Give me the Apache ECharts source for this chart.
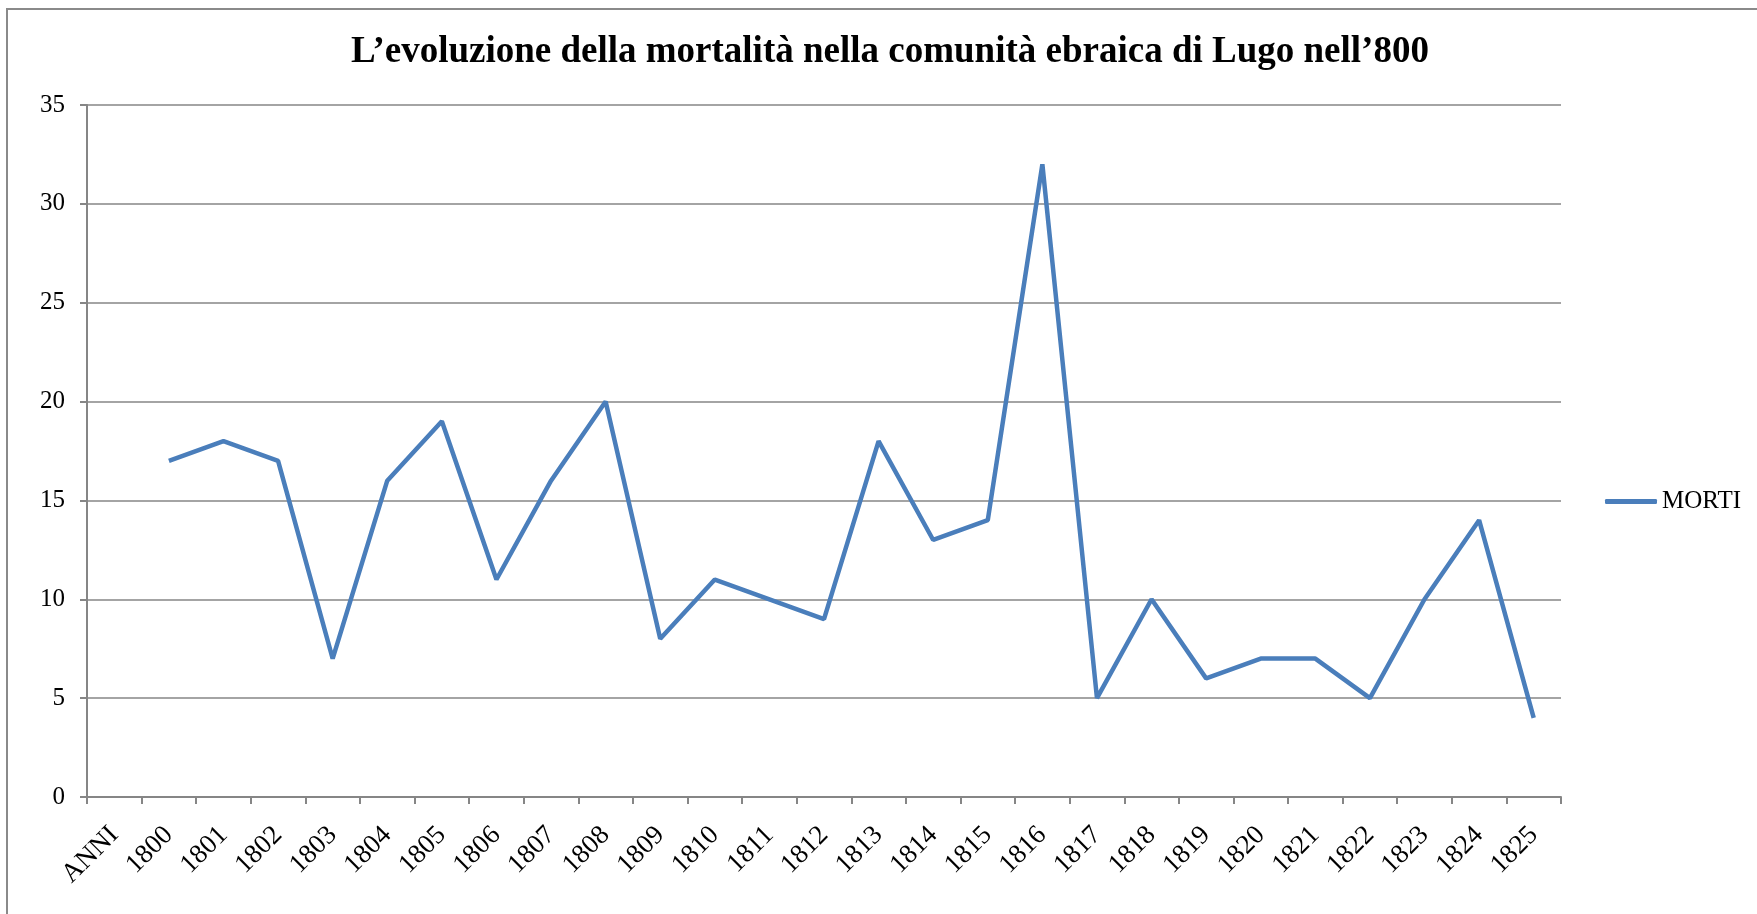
<!DOCTYPE html>
<html>
<head>
<meta charset="utf-8">
<script src="https://cdn.jsdelivr.net/npm/echarts@6/dist/echarts.min.js"></script>
<style>
html,body{margin:0;padding:0;background:#fff}
#chart{width:1757px;height:914px}
</style>
</head>
<body>
<div id="chart"></div>
<script>
// dati
var anni = ['ANNI','1800','1801','1802','1803','1804','1805','1806','1807','1808','1809','1810','1811','1812',
  '1813','1814','1815','1816','1817','1818','1819','1820','1821','1822','1823','1824','1825'];
var morti = [null,17,18,17,7,16,19,11,16,20,8,11,10,9,18,13,14,32,5,10,6,7,7,5,10,14,4];
var yTicks = [0,5,10,15,20,25,30,35];

var serif = '"Liberation Serif","Times New Roman",serif';
var myChart = echarts.init(document.getElementById('chart'));
myChart.setOption({
  animation: false,
  graphic: [{
    type: 'rect',
    shape: {x: 7, y: 9, width: 1800, height: 1000},
    style: {fill: 'none', stroke: '#8a8a8a', lineWidth: 2}
  }],
  title: {
    text: 'L\u2019evoluzione della mortalità nella comunità ebraica di Lugo nell\u2019800',
    left: 885, top: 29, textAlign: 'center',
    textStyle: {fontFamily: serif, fontWeight: 'bold', fontSize: 37, color: '#000'}
  },
  legend: {
    data: ['MORTI'],
    left: 1600, top: 484,
    icon: 'roundRect', itemWidth: 52, itemHeight: 5, itemGap: 5,
    textStyle: {fontFamily: serif, fontSize: 25, color: '#000'}
  },
  grid: {left: 87, right: 196, top: 105, bottom: 117},
  xAxis: {
    type: 'category',
    data: anni,
    boundaryGap: true,
    axisLine: {lineStyle: {color: '#868686', width: 2}},
    axisTick: {show: true, length: 7, lineStyle: {color: '#868686', width: 2}},
    axisLabel: {rotate: 45, interval: 0, margin: 34, fontFamily: serif, fontSize: 27, color: '#000'}
  },
  yAxis: {
    type: 'value',
    min: yTicks[0], max: yTicks[yTicks.length - 1], interval: 5,
    axisLine: {show: true, lineStyle: {color: '#868686', width: 2}},
    axisTick: {show: true, length: 7, lineStyle: {color: '#868686', width: 2}},
    splitLine: {lineStyle: {color: '#868686', width: 1.5}},
    axisLabel: {margin: 22, fontFamily: serif, fontSize: 25, color: '#000'}
  },
  series: [{
    name: 'MORTI',
    type: 'line',
    data: morti,
    symbol: 'none',
    color: '#4a7ebb',
    lineStyle: {width: 4.5, color: '#4a7ebb'}
  }]
});
</script>
</body>
</html>
